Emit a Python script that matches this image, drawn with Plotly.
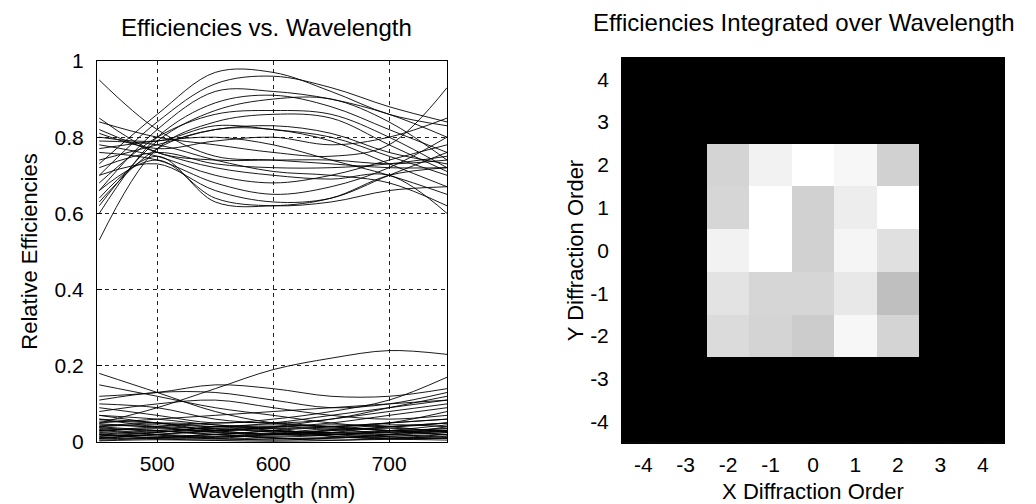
import plotly.graph_objects as go

# wavelengths at which each curve is sampled (nm)
wavelengths = [450, 500, 550, 600, 650, 700, 750]

# strong orders (upper bundle)
upper_curves = [
    [0.73, 0.86, 0.97, 0.97, 0.92, 0.86, 0.83],
    [0.70, 0.84, 0.94, 0.96, 0.93, 0.88, 0.84],
    [0.66, 0.82, 0.92, 0.92, 0.90, 0.86, 0.80],
    [0.60, 0.80, 0.89, 0.91, 0.88, 0.82, 0.76],
    [0.62, 0.79, 0.87, 0.90, 0.90, 0.84, 0.74],
    [0.68, 0.80, 0.86, 0.87, 0.86, 0.80, 0.72],
    [0.53, 0.77, 0.84, 0.86, 0.85, 0.78, 0.71],
    [0.74, 0.78, 0.82, 0.83, 0.81, 0.76, 0.73],
    [0.80, 0.79, 0.83, 0.82, 0.80, 0.75, 0.70],
    [0.81, 0.77, 0.79, 0.80, 0.78, 0.80, 0.85],
    [0.84, 0.80, 0.78, 0.76, 0.75, 0.78, 0.93],
    [0.95, 0.82, 0.75, 0.74, 0.73, 0.72, 0.72],
    [0.85, 0.76, 0.74, 0.74, 0.74, 0.73, 0.74],
    [0.72, 0.76, 0.73, 0.72, 0.72, 0.73, 0.75],
    [0.78, 0.75, 0.70, 0.68, 0.70, 0.74, 0.78],
    [0.76, 0.74, 0.68, 0.65, 0.67, 0.72, 0.80],
    [0.70, 0.73, 0.66, 0.63, 0.64, 0.70, 0.76],
    [0.66, 0.74, 0.64, 0.62, 0.63, 0.66, 0.67],
    [0.64, 0.75, 0.63, 0.62, 0.64, 0.70, 0.72],
    [0.82, 0.76, 0.72, 0.70, 0.69, 0.70, 0.60],
    [0.79, 0.78, 0.74, 0.71, 0.70, 0.68, 0.62],
    [0.77, 0.79, 0.80, 0.78, 0.74, 0.70, 0.65],
    [0.63, 0.77, 0.82, 0.82, 0.79, 0.73, 0.67],
]

# weak orders (lower bundle)
lower_curves = [
    [0.05, 0.09, 0.14, 0.19, 0.22, 0.24, 0.23],
    [0.18, 0.13, 0.08, 0.05, 0.04, 0.05, 0.08],
    [0.15, 0.12, 0.09, 0.07, 0.05, 0.04, 0.05],
    [0.12, 0.13, 0.15, 0.14, 0.12, 0.12, 0.14],
    [0.11, 0.13, 0.13, 0.11, 0.09, 0.10, 0.13],
    [0.10, 0.09, 0.06, 0.05, 0.06, 0.09, 0.12],
    [0.09, 0.07, 0.05, 0.06, 0.08, 0.11, 0.17],
    [0.08, 0.10, 0.11, 0.09, 0.07, 0.06, 0.07],
    [0.07, 0.05, 0.04, 0.05, 0.07, 0.09, 0.11],
    [0.06, 0.04, 0.03, 0.04, 0.06, 0.08, 0.10],
    [0.05, 0.06, 0.07, 0.08, 0.09, 0.10, 0.11],
    [0.04, 0.03, 0.02, 0.03, 0.04, 0.05, 0.06],
    [0.03, 0.04, 0.05, 0.05, 0.04, 0.03, 0.03],
    [0.02, 0.015, 0.01, 0.02, 0.03, 0.04, 0.05],
    [0.035, 0.03, 0.02, 0.01, 0.01, 0.02, 0.04],
    [0.01, 0.02, 0.03, 0.03, 0.02, 0.01, 0.01],
    [0.025, 0.02, 0.015, 0.015, 0.02, 0.025, 0.03],
    [0.005, 0.01, 0.02, 0.01, 0.005, 0.01, 0.02],
    [0.045, 0.04, 0.035, 0.03, 0.025, 0.03, 0.035],
    [0.015, 0.025, 0.04, 0.045, 0.04, 0.03, 0.02],
    [0.03, 0.02, 0.01, 0.005, 0.01, 0.015, 0.02],
    [0.055, 0.05, 0.04, 0.035, 0.04, 0.05, 0.06],
    [0.02, 0.03, 0.035, 0.025, 0.015, 0.01, 0.015],
    [0.04, 0.045, 0.03, 0.02, 0.025, 0.04, 0.05],
    [0.012, 0.008, 0.005, 0.008, 0.012, 0.018, 0.025],
    [0.06, 0.05, 0.03, 0.02, 0.02, 0.03, 0.045],
    [0.008, 0.012, 0.015, 0.02, 0.025, 0.02, 0.012],
    [0.07, 0.06, 0.045, 0.04, 0.05, 0.07, 0.09],
    [0.003, 0.006, 0.004, 0.002, 0.004, 0.007, 0.005],
    [0.018, 0.012, 0.02, 0.028, 0.022, 0.014, 0.01],
    [0.028, 0.035, 0.025, 0.018, 0.03, 0.036, 0.028],
    [0.038, 0.028, 0.032, 0.04, 0.033, 0.024, 0.03],
    [0.048, 0.038, 0.026, 0.022, 0.032, 0.045, 0.04],
    [0.015, 0.018, 0.008, 0.012, 0.018, 0.028, 0.035],
    [0.022, 0.01, 0.012, 0.022, 0.035, 0.03, 0.018],
    [0.033, 0.025, 0.04, 0.035, 0.015, 0.008, 0.01],
    [0.009, 0.02, 0.028, 0.038, 0.045, 0.04, 0.025],
    [0.042, 0.05, 0.045, 0.03, 0.02, 0.02, 0.028],
]

# integrated efficiency per (y, x) order, rows y=-4..4, cols x=-4..4
orders = [-4, -3, -2, -1, 0, 1, 2, 3, 4]
order_labels = ["-4", "-3", "-2", "-1", "0", "1", "2", "3", "4"]
integrated = [
    [0, 0, 0, 0, 0, 0, 0, 0, 0],
    [0, 0, 0, 0, 0, 0, 0, 0, 0],
    [0, 0, 0.86, 0.83, 0.80, 0.97, 0.83, 0, 0],
    [0, 0, 0.89, 0.84, 0.84, 0.91, 0.75, 0, 0],
    [0, 0, 0.95, 1.00, 0.82, 0.96, 0.88, 0, 0],
    [0, 0, 0.84, 1.00, 0.82, 0.93, 1.00, 0, 0],
    [0, 0, 0.83, 0.95, 1.00, 0.97, 0.82, 0, 0],
    [0, 0, 0, 0, 0, 0, 0, 0, 0],
    [0, 0, 0, 0, 0, 0, 0, 0, 0],
]

FONT = "Liberation Sans, Arial, sans-serif"

fig = go.Figure()

for curve in upper_curves + lower_curves:
    fig.add_trace(go.Scatter(
        x=wavelengths, y=curve, mode="lines",
        line=dict(color="black", width=0.9, shape="spline", smoothing=1.0),
        hoverinfo="skip", showlegend=False,
        xaxis="x", yaxis="y",
    ))

fig.add_trace(go.Heatmap(
    x=orders, y=orders, z=integrated,
    zmin=0, zmax=1,
    colorscale=[[0, "black"], [1, "white"]],
    showscale=False, xaxis="x2", yaxis="y2",
))

axis_common = dict(
    showline=True, linecolor="black", linewidth=1, mirror=True,
    ticks="inside", ticklen=5, tickcolor="black",
    tickfont=dict(size=21, color="black", family=FONT),
    zeroline=False, automargin=False,
)
title_font = dict(size=22, color="black", family=FONT)

fig.update_layout(
    width=1036, height=504,
    margin=dict(l=0, r=0, t=0, b=0),
    paper_bgcolor="white", plot_bgcolor="white",
    font=dict(family=FONT, color="black"),
    xaxis=dict(
        **axis_common, domain=[0.0936, 0.4315], range=[448, 750],
        tickvals=[500, 600, 700],
        showgrid=True, gridcolor="#222", gridwidth=0.8, griddash="4px,4px",
        title=dict(text="Wavelength (nm)", font=title_font, standoff=8),
        ticklabelstandoff=3,
    ),
    yaxis=dict(
        **axis_common, domain=[0.123, 0.879], range=[0, 1],
        tickvals=[0, 0.2, 0.4, 0.6, 0.8, 1], ticktext=["0", "0.2", "0.4", "0.6", "0.8", "1"],
        showgrid=True, gridcolor="#222", gridwidth=0.8, griddash="4px,4px",
        title=dict(text="Relative Efficiencies", font=title_font, standoff=10),
        ticklabelstandoff=8,
    ),
    xaxis2=dict(
        **axis_common, domain=[0.6004, 0.9691], range=[-4.5, 4.5],
        tickvals=orders, ticktext=order_labels, showgrid=False, anchor="y2",
        title=dict(text="X Diffraction Order", font=title_font, standoff=8),
        ticklabelstandoff=3,
    ),
    yaxis2=dict(
        **axis_common, domain=[0.121, 0.885], range=[-4.5, 4.5],
        tickvals=orders, ticktext=order_labels, showgrid=False, anchor="x2",
        title=dict(text="Y Diffraction Order", font=title_font, standoff=0),
        ticklabelstandoff=8,
    ),
    annotations=[
        dict(text="Efficiencies vs. Wavelength", x=266 / 1036, y=1 - 27 / 504,
             xref="paper", yref="paper", xanchor="center", yanchor="middle",
             showarrow=False, font=dict(size=24, family=FONT, color="black")),
        dict(text="Efficiencies Integrated over Wavelength", x=804 / 1036, y=1 - 23 / 504,
             xref="paper", yref="paper", xanchor="center", yanchor="middle",
             showarrow=False, font=dict(size=24, family=FONT, color="black")),
    ],
)

# the page's default body margin would shift the figure by 8px
fig.write_html("out.html", config={"displayModeBar": False},
               post_script="document.body.style.margin='0';")
